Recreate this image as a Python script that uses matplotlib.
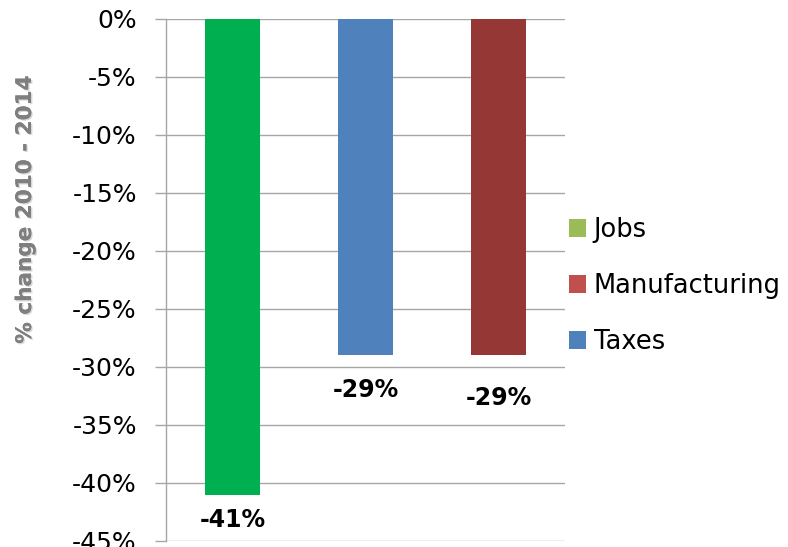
import matplotlib.pyplot as plt
from matplotlib.patches import Patch
import matplotlib.patheffects as pe
from matplotlib.ticker import FuncFormatter

# Percent change per category, 2010 - 2014
categories = ["Jobs", "Taxes", "Manufacturing"]
changes = [-41, -29, -29]
bar_colors = ["#00B050", "#4F81BD", "#953735"]

# Legend entries (order and swatch colours as in the series list)
legend_labels = ["Jobs", "Manufacturing", "Taxes"]
legend_colors = ["#9BBB59", "#C0504D", "#4F81BD"]

# How far below each bar end its value label sits, in points
label_drops = [18, 25, 31]

plt.rcParams["font.family"] = ["DejaVu Sans"]

fig = plt.figure(figsize=(7.88, 5.47), dpi=100)
ax = fig.add_axes([166 / 788, 6 / 547, 399 / 788, 522 / 547])

x = range(len(categories))
ax.bar(x, changes, width=0.41, color=bar_colors, zorder=3)

for xi, v, d in zip(x, changes, label_drops):
    ax.annotate(f"{v}%", (xi, v), xytext=(0, -d), textcoords="offset points",
                ha="center", va="center", fontsize=17, fontweight="bold", color="black")

ax.set_xlim(-0.5, 2.5)
ax.set_ylim(-45, 0)
ax.set_yticks(range(-45, 1, 5))
ax.yaxis.set_major_formatter(FuncFormatter(lambda v, _: f"{v:.0f}%"))
ax.tick_params(axis="y", length=8, width=1, color="#A6A6A6", labelsize=18, pad=13)
ax.tick_params(axis="x", length=0, labelbottom=False)
ax.grid(axis="y", color="#A6A6A6", linewidth=1, zorder=0)

for side in ["top", "right", "bottom"]:
    ax.spines[side].set_visible(False)
ax.spines["left"].set_color("#A6A6A6")
ax.spines["left"].set_linewidth(1)

fig.text(25 / 788, 1 - 210 / 547, "% change 2010 - 2014", rotation=90,
         ha="center", va="center", fontsize=15.5, fontweight="bold", color="#7F7F7F",
         path_effects=[pe.withSimplePatchShadow(offset=(1, -1), shadow_rgbFace="#BFBFBF", alpha=0.6),
                       pe.Normal()])

handles = [Patch(facecolor=c) for c in legend_colors]
fig.legend(handles, legend_labels, loc="center left", bbox_to_anchor=(569 / 788, 1 - 286 / 547),
           frameon=False, fontsize=18.5, handlelength=0.66, handleheight=0.66,
           handletextpad=0.3, labelspacing=1.17, borderpad=0, borderaxespad=0)

fig.savefig("out.png", dpi=100)
